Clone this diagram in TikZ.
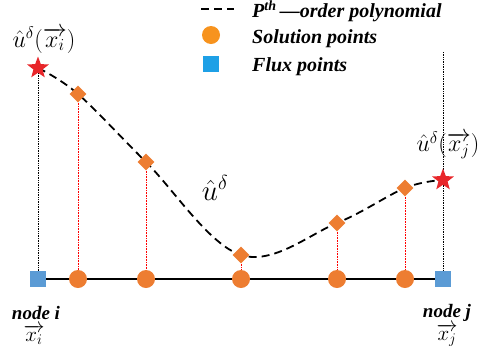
\RequirePackage{fix-cm}
\documentclass[tikz,border=0pt]{standalone}
\usepackage{fontspec}
\setmainfont{Liberation Serif}
\usepackage{amsmath}
\usetikzlibrary{positioning, shapes.geometric, backgrounds}

\definecolor{solorange}{HTML}{ED7D31}
\definecolor{legorange}{HTML}{F7931E}
\definecolor{fluxblue}{HTML}{5B9BD5}
\definecolor{legblue}{HTML}{1EA0E6}
\definecolor{starred}{HTML}{E8262A}

\begin{document}
\begin{tikzpicture}[
  x=1pt, y=-1pt,
  font=\fontsize{19}{22}\selectfont\bfseries\itshape,
  flux/.style   ={rectangle, fill=fluxblue, minimum size=15.5pt, inner sep=0pt},
  sol/.style    ={circle, fill=solorange, minimum size=18pt, inner sep=0pt},
  dia/.style    ={diamond, fill=solorange, minimum size=17pt, inner sep=0pt},
  endpt/.style  ={star, star points=5, star point ratio=2.4, fill=starred, minimum size=23pt, inner sep=0pt},
  poly/.style   ={dash pattern=on 8pt off 5pt, line width=1.8pt},
  drop/.style   ={densely dotted, red, line width=0.6pt},
  guide/.style  ={densely dotted, black, line width=0.7pt},
  axisline/.style={line width=1.6pt},
  lab/.style    ={font=\fontsize{24}{28}\selectfont, inner sep=0pt},
  legtext/.style={anchor=west, inner sep=0pt, font=\fontsize{20}{24}\selectfont\bfseries\itshape},
]
\useasboundingbox (0,0) rectangle (478,354);

% ---- flux points ----
\node[flux] (fi) at (38,279) {};
\node[flux] (fj) at (443,279) {};

% ---- solution points (on the element) ----
\node[sol] (s1) at (78,279) {};
\node[sol] (s2) at (146,279) {};
\node[sol] (s3) at (241,279) {};
\node[sol] (s4) at (337,279) {};
\node[sol] (s5) at (405,279) {};

% ---- values at solution points ----
\node[dia] (d1) at (78,94) {};
\node[dia] (d2) at (146,162) {};
\node[dia] (d3) at (241,255) {};
\node[dia] (d4) at (337,223) {};
\node[dia] (d5) at (405,188) {};

% ---- values at the flux points ----
\node[endpt] (ui) at (38,68) {};
\node[endpt] (uj) at (443,180) {};
\coordinate (topj) at (443,52);

\begin{scope}[on background layer]
  \draw[axisline] (fi) -- (fj);
  \draw[guide] (ui) -- (fi);
  \draw[guide] (topj) -- (fj);
  \foreach \k in {1,...,5}
    \draw[drop] (d\k) -- (s\k);
  \draw[poly] plot[smooth, tension=0.6] coordinates {(ui) (d1) (d2) (d3) (d4) (d5) (uj)};
\end{scope}

% ---- labels ----
\node[lab] (labi) at (44,40) {$\hat{u}^{\delta}(\overrightarrow{x_i})$};
\node[lab] (labj) at (448,145) {$\hat{u}^{\delta}(\overrightarrow{x_j})$};
\node[lab, font=\fontsize{29}{32}\selectfont] (labu) at (215,188) {$\hat{u}^{\delta}$};
\node (nodei) at (36,313) {node i};
\node (nodej) at (447,313) {node j};
\node[lab, font=\fontsize{21}{24}\selectfont] (xi) at (34,335) {$\overrightarrow{x_i}$};
\node[lab, font=\fontsize{21}{24}\selectfont] (xj) at (447,335) {$\overrightarrow{x_j}$};

% ---- legend ----
\coordinate (lga) at (201,9);
\coordinate (lgb) at (234,9);
\draw[poly] (lga) -- (lgb);
\node[sol, fill=legorange] (lgsol) at (211,35) {};
\node[flux, fill=legblue] (lgflux) at (211,64) {};
\node[legtext] (lgt1) at (252,11) {P\textsuperscript{th}\,—order polynomial};
\node[legtext] (lgt2) at (252,39) {Solution points};
\node[legtext] (lgt3) at (252,67) {Flux points};

\end{tikzpicture}
\end{document}
